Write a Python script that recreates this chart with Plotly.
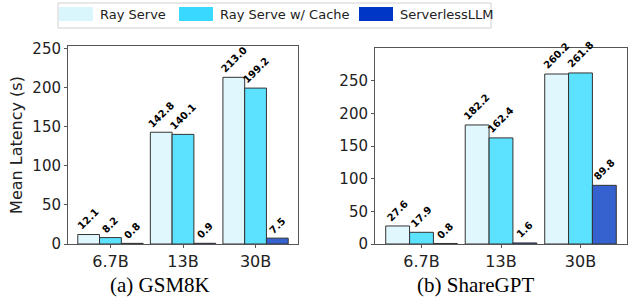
import plotly.graph_objects as go

categories = ["6.7B", "13B", "30B"]
series_names = ["Ray Serve", "Ray Serve w/ Cache", "ServerlessLLM"]
gsm8k_ray = [12.1, 142.8, 213.0]
gsm8k_cache = [8.2, 140.1, 199.2]
gsm8k_sllm = [0.8, 0.9, 7.5]
sharegpt_ray = [27.6, 182.2, 260.2]
sharegpt_cache = [17.9, 162.4, 261.8]
sharegpt_sllm = [0.8, 1.6, 89.8]
y_ticks_left = [0, 50, 100, 150, 200, 250]
y_ticks_right = [0, 50, 100, 150, 200, 250]
captions = ["(a) GSM8K", "(b) ShareGPT"]

colors = ["#E0F8FD", "#5CE1FF", "#3562CE"]
legend_colors = ["#D8F6FC", "#38D8FF", "#0036C6"]
edge = "#333333"

fig = go.Figure()
panels = [
    ("x", "y", [gsm8k_ray, gsm8k_cache, gsm8k_sllm]),
    ("x2", "y2", [sharegpt_ray, sharegpt_cache, sharegpt_sllm]),
]
annotations = []
shapes = []
for p, (xa, ya, data) in enumerate(panels):
    for j, (name, vals) in enumerate(zip(series_names, data)):
        fig.add_trace(go.Bar(
            x=categories, y=vals, name=name, xaxis=xa, yaxis=ya,
            marker=dict(color=colors[j], line=dict(color=edge, width=1)),
            showlegend=False,
        ))
        for i, v in enumerate(vals):
            annotations.append(dict(
                x=i + (j - 1) * 0.3, y=v, xref=xa, yref=ya,
                text=f"<b>{v:.1f}</b>", showarrow=False,
                textangle=-45, xanchor="center", yanchor="bottom",
                font=dict(family="DejaVu Sans", size=10, color="black"),
            ))

for k, cap in enumerate(captions):
    annotations.append(dict(
        x=[160 / 636, 476 / 636][k], y=15 / 300, xref="paper", yref="paper",
        text=cap, showarrow=False, xanchor="center", yanchor="middle",
        font=dict(family="Liberation Serif", size=21, color="black"),
    ))

# legend box drawn as paper-space patches + text
W, H = 636.0, 300.0
shapes.append(dict(type="rect", xref="paper", yref="paper",
                   x0=58 / W, x1=491 / W, y0=1 - 28 / H, y1=1 - 3 / H,
                   line=dict(color="#D0D0D0", width=1), fillcolor="white", layer="above"))
patch_x = [58, 178, 358]
for j, name in enumerate(series_names):
    x0 = patch_x[j] + 1
    shapes.append(dict(type="rect", xref="paper", yref="paper",
                       x0=x0 / W, x1=(x0 + 34) / W, y0=1 - 21 / H, y1=1 - 7 / H,
                       line=dict(width=0), fillcolor=legend_colors[j], layer="above"))
    annotations.append(dict(
        x=(x0 + 39) / W, y=1 - 14.5 / H, xref="paper", yref="paper",
        text=name, showarrow=False, xanchor="left", yanchor="middle",
        font=dict(family="DejaVu Sans", size=13, color="#222222"),
    ))

axis_common = dict(
    showline=True, linecolor="#555555", linewidth=1, mirror=True,
    ticks="outside", ticklen=3, tickcolor="#555555",
    showgrid=False, zeroline=False, automargin=False,
    tickfont=dict(family="DejaVu Sans", size=15, color="#222222"),
)

fig.update_layout(
    width=636, height=300,
    margin=dict(l=0, r=0, t=0, b=0),
    paper_bgcolor="white", plot_bgcolor="white",
    barmode="group", bargap=0.1, bargroupgap=0,
    showlegend=False,
    xaxis=dict(domain=[68 / 636, 298 / 636], range=[-0.585, 2.585], anchor="y", **axis_common),
    yaxis=dict(domain=[56 / 300, 254 / 300], range=[0, 253], tickvals=y_ticks_left, anchor="x",
               title=dict(text="Mean Latency (s)", font=dict(family="DejaVu Sans", size=16, color="#222222"), standoff=5),
               **axis_common),
    xaxis2=dict(domain=[375 / 636, 627 / 636], range=[-0.585, 2.585], anchor="y2", **axis_common),
    yaxis2=dict(domain=[56 / 300, 252 / 300], range=[0, 300], tickvals=y_ticks_right, anchor="x2", **axis_common),
    annotations=annotations,
    shapes=shapes,
)
fig.update_xaxes(tickfont=dict(size=16))

fig.write_html(
    "out.html",
    config={"displayModeBar": False},
    post_script="document.body.style.margin='0';document.body.style.padding='0';",
)
